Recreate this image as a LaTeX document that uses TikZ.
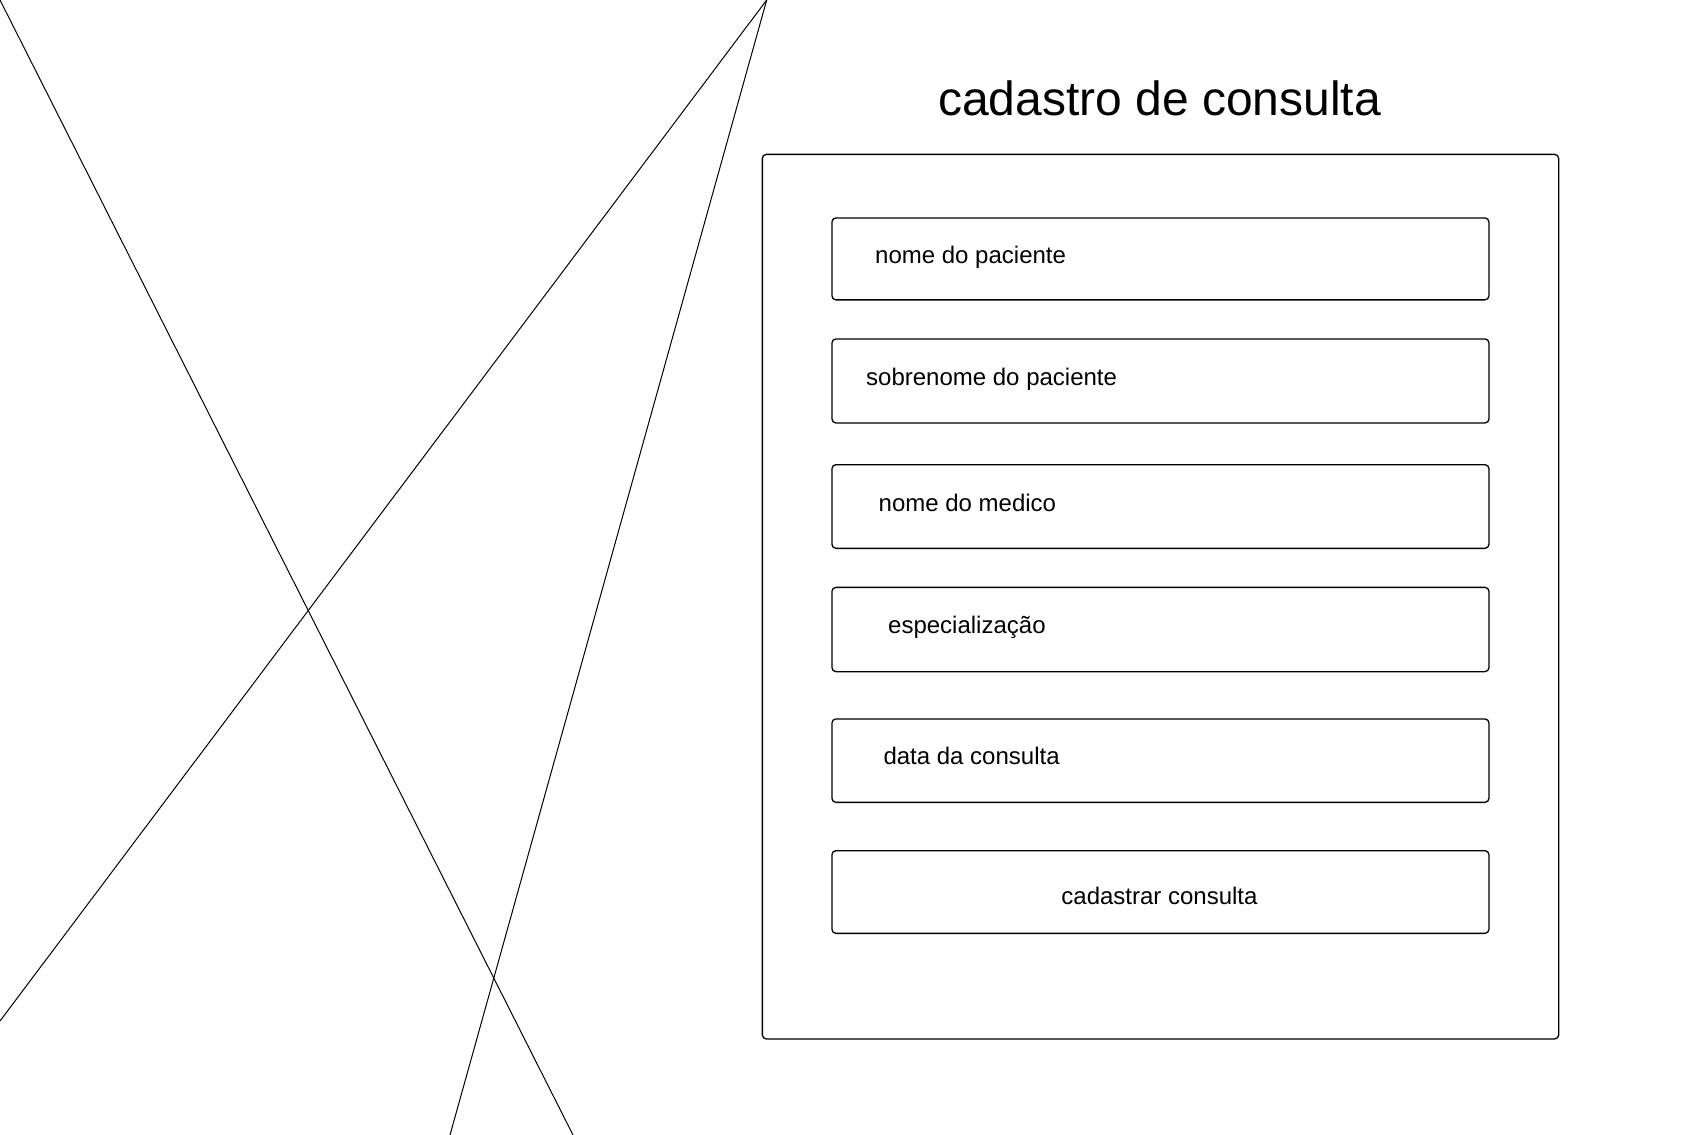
\documentclass[tikz,border=0pt]{standalone}
\usepackage{fontspec}
\setmainfont{Liberation Sans}
\begin{document}
\begin{tikzpicture}[x=1pt,y=-1pt,
  frame/.style={draw=black, line width=1.3pt, rounded corners=4pt, inner sep=0pt, anchor=north west},
  field/.style={draw=black, line width=1.3pt, rounded corners=4pt, inner sep=0pt, anchor=north west, minimum width=657pt},
  lbl/.style={anchor=base west, inner sep=0pt, font=\fontsize{24}{28}\selectfont},
  cross/.style={draw=black, line width=1pt}]
\useasboundingbox (0,0) rectangle (1682,1135);
% cross lines
\coordinate (tl) at (0,0);
\coordinate (bl) at (573,1135);
\coordinate (apex) at (766.7,0);
\coordinate (le) at (0,1021);
\coordinate (bm) at (450,1135);
\draw[cross] (tl) -- (bl);
\draw[cross] (apex) -- (le);
\draw[cross] (apex) -- (bm);
% title
\node[anchor=base, inner sep=0pt, font=\fontsize{48}{56}\selectfont] (title) at (1159.5,115) {cadastro de consulta};
% outer frame
\node[frame, minimum width=796.3pt, minimum height=884.6pt] (outer) at (761.7,153.7) {};
% fields
\node[field, minimum height=81.9pt] (f1) at (831.3,217.3) {};
\node[field, minimum height=84pt] (f2) at (831.3,338.3) {};
\node[field, minimum height=83.7pt] (f3) at (831.3,464) {};
\node[field, minimum height=84.3pt] (f4) at (831.3,586.7) {};
\node[field, minimum height=83.4pt] (f5) at (831.3,718.3) {};
\node[field, minimum height=82.7pt] (f6) at (831.3,850) {};
% labels
\node[lbl] (t1) at (875,263) {nome do paciente};
\node[lbl] (t2) at (866,385) {sobrenome do paciente};
\node[lbl] (t3) at (878.5,511) {nome do medico};
\node[lbl] (t4) at (888,633) {especialização};
\node[lbl] (t5) at (883.3,764.3) {data da consulta};
\node[lbl, anchor=base] (t6) at (1159.5,904.3) {cadastrar consulta};
\end{tikzpicture}
\end{document}
